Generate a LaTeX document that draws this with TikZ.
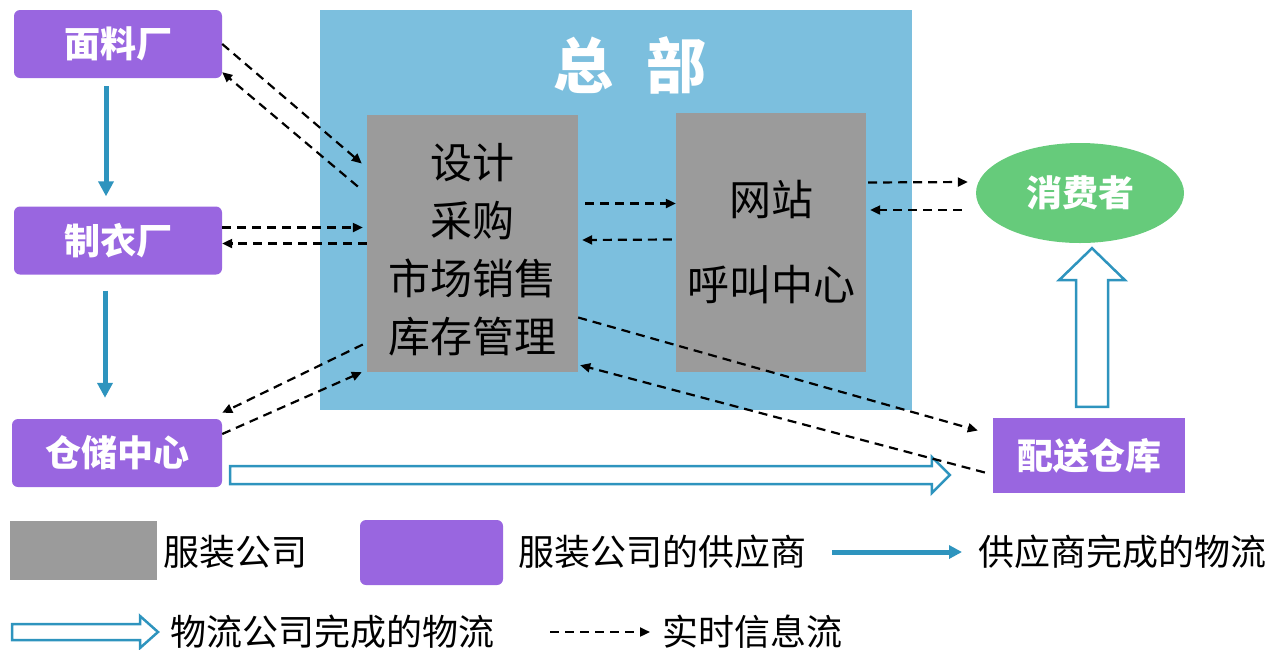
\documentclass[tikz,border=0pt]{standalone}
\usepackage{fontspec}
\setmainfont{Noto Sans CJK SC}
\usetikzlibrary{arrows.meta,shapes.geometric,calc}
\definecolor{supplier}{RGB}{153,102,224}
\definecolor{hqblue}{RGB}{124,191,222}
\definecolor{company}{RGB}{155,155,155}
\definecolor{consumer}{RGB}{102,203,123}
\definecolor{flow}{RGB}{46,148,190}
\tikzset{
  supplier/.style={fill=supplier, rounded corners=6, minimum width=208, minimum height=68, text=white, font=\fontsize{36}{40}\selectfont\bfseries},
  company/.style={fill=company, font=\fontsize{42}{58}\selectfont, align=center},
  info/.style={black, line width=2.2pt, dash pattern=on 9pt off 6pt, -{Triangle[length=10pt,width=9pt]}},
  supply/.style={flow, line width=5pt, -{Triangle[length=15pt,width=15pt]}},
  hollow/.style={draw=flow, line width=2.5pt, fill=white},
  label/.style={anchor=west, inner sep=0, font=\fontsize{36}{40}\selectfont},
}

\begin{document}
\begin{tikzpicture}[x=1pt,y=-1pt]
\useasboundingbox (0,0) rectangle (1276,649);
\node[fill=hqblue, minimum width=592, minimum height=400] (hq) at (616,210) {};
\node[white, font=\fontsize{60}{60}\selectfont\bfseries] (zongbu) at (630,65) {总\hspace{34pt}部};

\node[supplier] (mianliao) at (118,44) {面料厂};
\node[supplier] (zhiyi) at (118,240.5) {制衣厂};
\node[supplier, minimum width=210] (cangchu) at (117,453) {仓储中心};
\node[company, minimum width=211, minimum height=257] (sheji) at (472.5,243.5) {};
\node[company, fill=none] (shejitxt) at (472.5,250) {设计\\采购\\市场销售\\库存管理};
\node[company, minimum width=190, minimum height=259] (wangzhan) at (771,242.5) {网站\\[27pt]呼叫中心};
\node[ellipse, fill=consumer, minimum width=208, minimum height=100, text=white, font=\fontsize{36}{40}\selectfont\bfseries] (xiaofei) at (1080,193) {消费者};
\node[supplier, sharp corners, minimum width=192, minimum height=75] (peisong) at (1089,455.5) {配送仓库};

\draw[supply] ([xshift=-12pt,yshift=-8pt]mianliao.south) -- ([xshift=-12pt,yshift=10pt]zhiyi.north);
\draw[supply] ([xshift=-13pt,yshift=-16pt]zhiyi.south) -- ([xshift=-12pt,yshift=21pt]cangchu.north);

\draw[hollow] let \p1=([xshift=8pt,yshift=-22pt]cangchu.east), \p2=([xshift=-43pt]peisong.west) in
  (\x1,\y1+9pt) -- (\x2-18pt,\y1+9pt) -- (\x2-18pt,\y1+18pt) -- (\x2,\y1) -- (\x2-18pt,\y1-18pt) -- (\x2-18pt,\y1-9pt) -- (\x1,\y1-9pt) -- cycle;
\draw[hollow] let \p1=([xshift=3pt,yshift=11pt]peisong.north), \p2=([yshift=-5pt]xiaofei.south) in
  (\x1-16pt,\y1) -- (\x1-16pt,\y2-32pt) -- (\x1-33pt,\y2-32pt) -- (\x1,\y2) -- (\x1+33pt,\y2-32pt) -- (\x1+16pt,\y2-32pt) -- (\x1+16pt,\y1) -- cycle;

\draw[info] (mianliao.east) -- ([xshift=-5pt,yshift=80pt]sheji.west);
\draw[info] ([xshift=-9pt,yshift=57pt]sheji.west) -- ([yshift=6pt]mianliao.south east);
\draw[info] ([yshift=13pt]zhiyi.east) -- ([xshift=-4pt,yshift=16pt]sheji.west);
\draw[info] (sheji.west) -- ([yshift=-3pt]zhiyi.east);
\draw[info] ([xshift=-4pt,yshift=-101pt]sheji.west) -- ([yshift=6pt]cangchu.north east);
\draw[info] ([yshift=19pt]cangchu.east) -- ([xshift=-5pt]sheji.south west);
\draw[info] ([xshift=7pt,yshift=40pt]sheji.east) -- ([yshift=39pt]wangzhan.west);
\draw[info] ([xshift=-4pt,yshift=3pt]wangzhan.west) -- ([xshift=4pt,yshift=3.5pt]sheji.east);
\draw[info] ([xshift=2pt,yshift=60pt]wangzhan.east) -- ([xshift=-8pt,yshift=11pt]xiaofei.west);
\draw[info] ([xshift=-14pt,yshift=-17pt]xiaofei.west) -- ([xshift=4pt,yshift=32.5pt]wangzhan.east);
\draw[info] ([yshift=-74pt]sheji.east) -- ([xshift=-15pt,yshift=25pt]peisong.west);
\draw[info] ([xshift=-8pt,yshift=-17pt]peisong.west) -- ([xshift=2pt,yshift=7pt]sheji.south east);

\node[fill=company, minimum width=147, minimum height=59] (lcompany) at (83.5,550.5) {};
\node[label] (lcompanytxt) at (163,552) {服装公司};
\node[supplier, minimum width=143, minimum height=65] (lsupplier) at (431.5,552.5) {};
\node[label] (lsuppliertxt) at (518,552) {服装公司的供应商};
\node[label] (lsupplytxt) at (978,552) {供应商完成的物流};
\draw[supply, -{Triangle[length=13pt,width=13pt]}] ([xshift=-146pt]lsupplytxt.west) -- ([xshift=-16pt]lsupplytxt.west);
\node[label] (lhollowtxt) at (170,632) {物流公司完成的物流};
\draw[hollow] let \p1=(lhollowtxt.west) in
  (\x1-158pt,\y1+8pt) -- (\x1-30pt,\y1+8pt) -- (\x1-30pt,\y1+16pt) -- (\x1-12pt,\y1) -- (\x1-30pt,\y1-16pt) -- (\x1-30pt,\y1-8pt) -- (\x1-158pt,\y1-8pt) -- cycle;
\node[label] (linfotxt) at (662,632) {实时信息流};
\draw[info] ([xshift=-112pt]linfotxt.west) -- ([xshift=-12pt]linfotxt.west);
\end{tikzpicture}
\end{document}
